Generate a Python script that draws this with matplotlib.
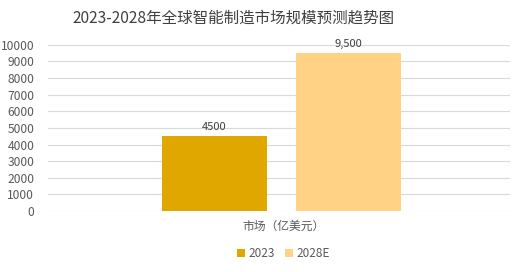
import matplotlib
matplotlib.use("Agg")
import matplotlib.pyplot as plt

plt.rcParams['font.family'] = ['Noto Sans CJK SC', 'DejaVu Sans']

# 数据
category = "市场（亿美元）"
series = ["2023", "2028E"]
values = [4500, 9500]
value_labels = ["4500", "9,500"]
colors = ["#DFA700", "#FFD286"]
yticks = list(range(0, 10001, 1000))

text_color = "#595959"

fig = plt.figure(figsize=(5.30, 2.72), dpi=100)
ax = fig.add_axes([0.0906, 0.224, 0.872, 0.611])

offsets = [-0.28, 0.30]
width = 0.455
for s, v, lab, c, off in zip(series, values, value_labels, colors, offsets):
    ax.bar(off, v, width=width, color=c, label=s, zorder=3)
    ax.text(off, v + 250, lab, ha='center', va='bottom', fontsize=8, color="#404040")

ax.set_xlim(-1, 1)
ax.set_ylim(0, 10000)
ax.set_yticks(yticks)
ax.set_yticklabels([str(t) for t in yticks], fontsize=8.7, color=text_color)
ax.set_xticks([])
ax.yaxis.grid(True, color="#D9D9D9", linewidth=0.8, zorder=0)
ax.tick_params(axis='y', length=0, pad=10)
for sp in ax.spines.values():
    sp.set_visible(False)

fig.text(0.535, 0.168, category, ha='center', va='center', fontsize=8.5, color=text_color)
fig.text(0.44, 0.935, "2023-2028年全球智能制造市场规模预测趋势图", ha='center', va='center',
         fontsize=11.2, color="#404040")

leg = fig.legend(loc='center', bbox_to_anchor=(0.535, 0.068), ncol=2, frameon=False,
                 fontsize=8.5, handlelength=0.7, handleheight=0.7, handletextpad=0.3,
                 columnspacing=0.8, labelcolor=text_color)

fig.savefig("out.png", dpi=100)
